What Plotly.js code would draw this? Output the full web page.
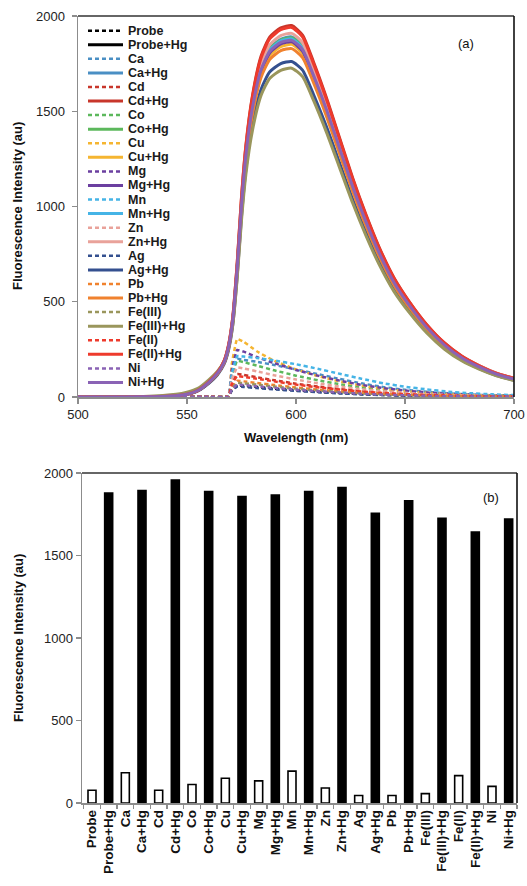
<!DOCTYPE html>
<html><head><meta charset="utf-8">
<script src="https://cdn.plot.ly/plotly-3.0.1.min.js"></script>
<style>html,body{margin:0;padding:0;background:#fff;} #chart{width:527px;height:886px;}</style>
</head><body><div id="chart"></div>
<script>
// ---------- Panel (a): emission spectra ----------
const wlSolid = [500,530,545,550,555,560,564,567,569,571,573,575,577,580,584,588,593,598,603,608,614,620,626,632,638,645,652,660,668,676,684,692,700];
const wlDash  = [500,560,569,570.5,573,576,582,590,600,610,620,630,640,650,660,670,680,690,700];

const probe   = [0,1,2,35,60,58,52,44,35,27,21,15,11,8,6,4,3,2,2];
const probeHg = [0,1,7,14,34,77,125,182,259,403,671,1007,1266,1515,1717,1813,1859,1870,1822,1688,1506,1304,1103,921,758,599,480,364,273,206,158,120,94];
const ca      = [0,2,5,110,200,195,185,168,145,120,95,72,52,38,27,19,13,9,6];
const caHg    = [0,1,7,15,34,78,126,184,262,407,678,1017,1279,1531,1735,1831,1878,1890,1841,1705,1521,1318,1114,930,766,606,485,368,276,208,160,121,95];
const cd      = [0,1,3,70,120,116,104,88,70,55,42,31,23,17,12,8,6,4,3];
const cdHg    = [0,1,7,15,35,80,130,190,270,420,700,1050,1320,1580,1790,1890,1938,1950,1900,1760,1570,1360,1150,960,790,625,500,380,285,215,165,125,98];
const co      = [0,2,4,110,190,183,165,140,112,88,67,50,37,27,19,13,9,6,4];
const coHg    = [0,1,7,15,34,77,126,184,261,406,677,1015,1276,1528,1731,1828,1874,1886,1837,1702,1518,1315,1112,928,764,604,484,367,276,208,160,121,95];
const cu      = [0,2,5,170,305,290,240,190,145,110,82,60,43,31,22,15,10,7,5];
const cuHg    = [0,1,7,14,33,76,123,180,256,399,664,996,1253,1499,1699,1794,1839,1851,1803,1670,1490,1291,1091,911,750,593,475,361,270,204,157,119,93];
const mg      = [0,2,5,140,247,238,210,178,142,112,86,64,47,34,24,17,12,8,6];
const mgHg    = [0,1,7,14,33,76,124,182,258,402,669,1004,1262,1510,1711,1807,1853,1864,1816,1683,1501,1300,1099,918,755,598,478,363,272,206,158,120,94];
const mn      = [0,2,5,120,215,212,205,192,172,148,122,96,72,54,40,28,20,14,10];
const mnHg    = [0,1,7,15,34,77,125,183,260,405,675,1012,1273,1523,1726,1822,1869,1880,1832,1697,1514,1311,1109,926,762,603,482,366,275,207,159,121,94];
const zn      = [0,1,4,90,155,150,135,114,92,72,55,41,30,22,15,11,8,5,4];
const znHg    = [0,1,7,15,34,78,127,186,264,411,685,1028,1292,1547,1752,1850,1897,1909,1860,1723,1537,1331,1126,940,773,612,490,372,279,210,162,122,96];
const ag      = [0,1,2,32,55,53,47,40,32,25,19,14,10,7,5,4,3,2,1];
const agHg    = [0,1,6,14,32,72,117,172,244,379,632,948,1192,1427,1616,1707,1750,1761,1716,1589,1418,1228,1038,867,713,564,452,343,257,194,149,113,88];
const pb      = [0,1,3,50,85,82,74,63,50,39,30,22,16,12,8,6,4,3,2];
const pbHg    = [0,1,7,14,33,75,122,178,253,394,657,985,1238,1482,1679,1773,1818,1829,1782,1651,1473,1276,1079,900,741,586,469,356,267,202,155,117,92];
const fe3     = [0,1,3,45,75,72,65,55,44,34,26,19,14,10,7,5,4,3,2];
const fe3Hg   = [0,3,14,25,45,90,135,185,255,380,620,929,1168,1398,1584,1673,1715,1726,1682,1558,1389,1204,1018,850,699,553,443,336,252,190,146,111,87];
const fe2     = [0,1,3,65,110,106,96,82,65,51,39,29,21,15,11,8,5,4,3];
const fe2Hg   = [0,1,7,15,35,80,129,189,269,418,697,1045,1313,1572,1781,1881,1928,1940,1891,1751,1562,1353,1144,955,786,622,498,378,284,214,164,124,98];
const ni      = [0,1,2,38,65,63,56,48,38,30,23,17,12,9,6,4,3,2,2];
const niHg    = [0,1,7,14,34,77,125,182,260,404,672,1008,1268,1517,1719,1815,1861,1872,1824,1690,1508,1306,1104,922,759,600,481,365,274,206,158,120,94];

const seriesNames = ['Probe','Probe+Hg','Ca','Ca+Hg','Cd','Cd+Hg','Co','Co+Hg','Cu','Cu+Hg','Mg','Mg+Hg','Mn','Mn+Hg','Zn','Zn+Hg','Ag','Ag+Hg','Pb','Pb+Hg','Fe(III)','Fe(III)+Hg','Fe(II)','Fe(II)+Hg','Ni','Ni+Hg'];
const seriesData  = [probe,probeHg,ca,caHg,cd,cdHg,co,coHg,cu,cuHg,mg,mgHg,mn,mnHg,zn,znHg,ag,agHg,pb,pbHg,fe3,fe3Hg,fe2,fe2Hg,ni,niHg];
const metalColors = ['#000000','#4a8fc4','#c8362b','#5cb85c','#f5b531','#6b3fa0','#45b4e6','#e9a29a','#34508f','#f0822e','#9a965c','#ee3a2c','#8a63b5'];

// ---------- Panel (b): bar chart ----------
const barLabels = ['Probe','Probe+Hg','Ca','Ca+Hg','Cd','Cd+Hg','Co','Co+Hg','Cu','Cu+Hg','Mg','Mg+Hg','Mn','Mn+Hg','Zn','Zn+Hg','Ag','Ag+Hg','Pb','Pb+Hg','Fe(III)','Fe(III)+Hg','Fe(II)','Fe(II)+Hg','Ni','Ni+Hg'];
const barValues = [77,1878,183,1893,77,1958,112,1887,150,1857,134,1867,193,1887,91,1912,45,1756,45,1832,57,1726,166,1642,101,1721];

const W = 527, H = 886;
const px = v => v / W;
const py = v => 1 - v / H;
const FONT = 'Liberation Sans, Arial, sans-serif';
const DASH = '4px,3px';

const traces = [];
seriesNames.forEach((name, i) => {
  const solid = i % 2 === 1;
  traces.push({
    type: 'scatter', mode: 'lines', name: name,
    x: solid ? wlSolid : wlDash, y: seriesData[i],
    xaxis: 'x', yaxis: 'y',
    line: {color: metalColors[Math.floor(i/2)], width: solid ? 3 : 2.5, dash: solid ? 'solid' : DASH, shape: 'spline', smoothing: solid ? 0.6 : 0.3},
    showlegend: false, hoverinfo: 'skip'
  });
});

traces.push({
  type: 'bar', x: barLabels, y: barValues, xaxis: 'x2', yaxis: 'y2',
  marker: {color: barLabels.map((_, i) => i % 2 === 1 ? '#000000' : '#ffffff'), line: {color: '#000000', width: 1.6}},
  showlegend: false, hoverinfo: 'skip'
});

const axisCommon = {
  showline: true, linecolor: '#8c8c8c', linewidth: 1.5, ticks: 'outside', ticklen: 5,
  tickcolor: '#8c8c8c', tickwidth: 1.2, showgrid: false, zeroline: false, automargin: false,
  tickfont: {family: FONT, size: 13, color: '#222'}
};

const shapes = [];
const annotations = [];

// frames (top and right borders)
[['x domain','y domain'],['x2 domain','y2 domain']].forEach(([xr, yr]) => {
  shapes.push({type:'line', xref:xr, yref:yr, x0:0, x1:1, y0:1, y1:1, line:{color:'#333', width:1.6}});
  shapes.push({type:'line', xref:xr, yref:yr, x0:1, x1:1, y0:0, y1:1, line:{color:'#111', width:1.6}});
});

// manual legend
seriesNames.forEach((name, i) => {
  const solid = i % 2 === 1;
  const yy = 30.7 + i * 14.07;
  shapes.push({type:'line', xref:'paper', yref:'paper', x0:px(88), x1:px(123), y0:py(yy), y1:py(yy),
    line:{color: metalColors[Math.floor(i/2)], width: solid ? 3 : 2.5, dash: solid ? 'solid' : DASH}});
  annotations.push({xref:'paper', yref:'paper', x:px(126), y:py(yy), xanchor:'left', yanchor:'middle',
    text: '<b>' + name + '</b>', showarrow:false, font:{family:FONT, size:12.5, color:'#1a1a1a'}});
});

annotations.push({xref:'paper', yref:'paper', x:px(18), y:py(206), textangle:-90, xanchor:'center', yanchor:'middle',
  text:'<b>Fluorescence Intensity (au)</b>', showarrow:false, font:{family:FONT, size:13, color:'#111'}});
annotations.push({xref:'paper', yref:'paper', x:px(296), y:py(437), xanchor:'center', yanchor:'middle',
  text:'<b>Wavelength (nm)</b>', showarrow:false, font:{family:FONT, size:13, color:'#111'}});
annotations.push({xref:'paper', yref:'paper', x:px(18), y:py(638), textangle:-90, xanchor:'center', yanchor:'middle',
  text:'<b>Fluorescence Intensity (au)</b>', showarrow:false, font:{family:FONT, size:13, color:'#111'}});
annotations.push({xref:'paper', yref:'paper', x:px(466), y:py(43), xanchor:'center', yanchor:'middle',
  text:'(a)', showarrow:false, font:{family:FONT, size:13, color:'#111'}});
annotations.push({xref:'paper', yref:'paper', x:px(491), y:py(497), xanchor:'center', yanchor:'middle',
  text:'(b)', showarrow:false, font:{family:FONT, size:13, color:'#111'}});

const layout = {
  width: W, height: H, margin: {l:0, r:0, t:0, b:0},
  paper_bgcolor: '#ffffff', plot_bgcolor: '#ffffff', showlegend: false,
  font: {family: FONT},
  xaxis: Object.assign({}, axisCommon, {domain:[px(78), px(514)], range:[500,700], tickvals:[500,550,600,650,700], anchor:'y'}),
  yaxis: Object.assign({}, axisCommon, {domain:[py(397), py(16)], range:[0,2000], tickvals:[0,500,1000,1500,2000], anchor:'x', ticklabelstandoff: 4}),
  xaxis2: Object.assign({}, axisCommon, {type:'category', domain:[px(82), px(517)], range:[-0.6,25.5], tickangle:-90,
    tickson:'boundaries', ticklen:4, anchor:'y2', tickfont:{family:FONT, size:13.5, color:'#111', weight:'bold'}}),
  yaxis2: Object.assign({}, axisCommon, {domain:[py(803), py(473)], range:[0,2000], tickvals:[0,500,1000,1500,2000], anchor:'x2'}),
  bargap: 0.52,
  shapes: shapes, annotations: annotations
};

Plotly.newPlot('chart', traces, layout, {displayModeBar:false, staticPlot:true});
</script></body></html>
